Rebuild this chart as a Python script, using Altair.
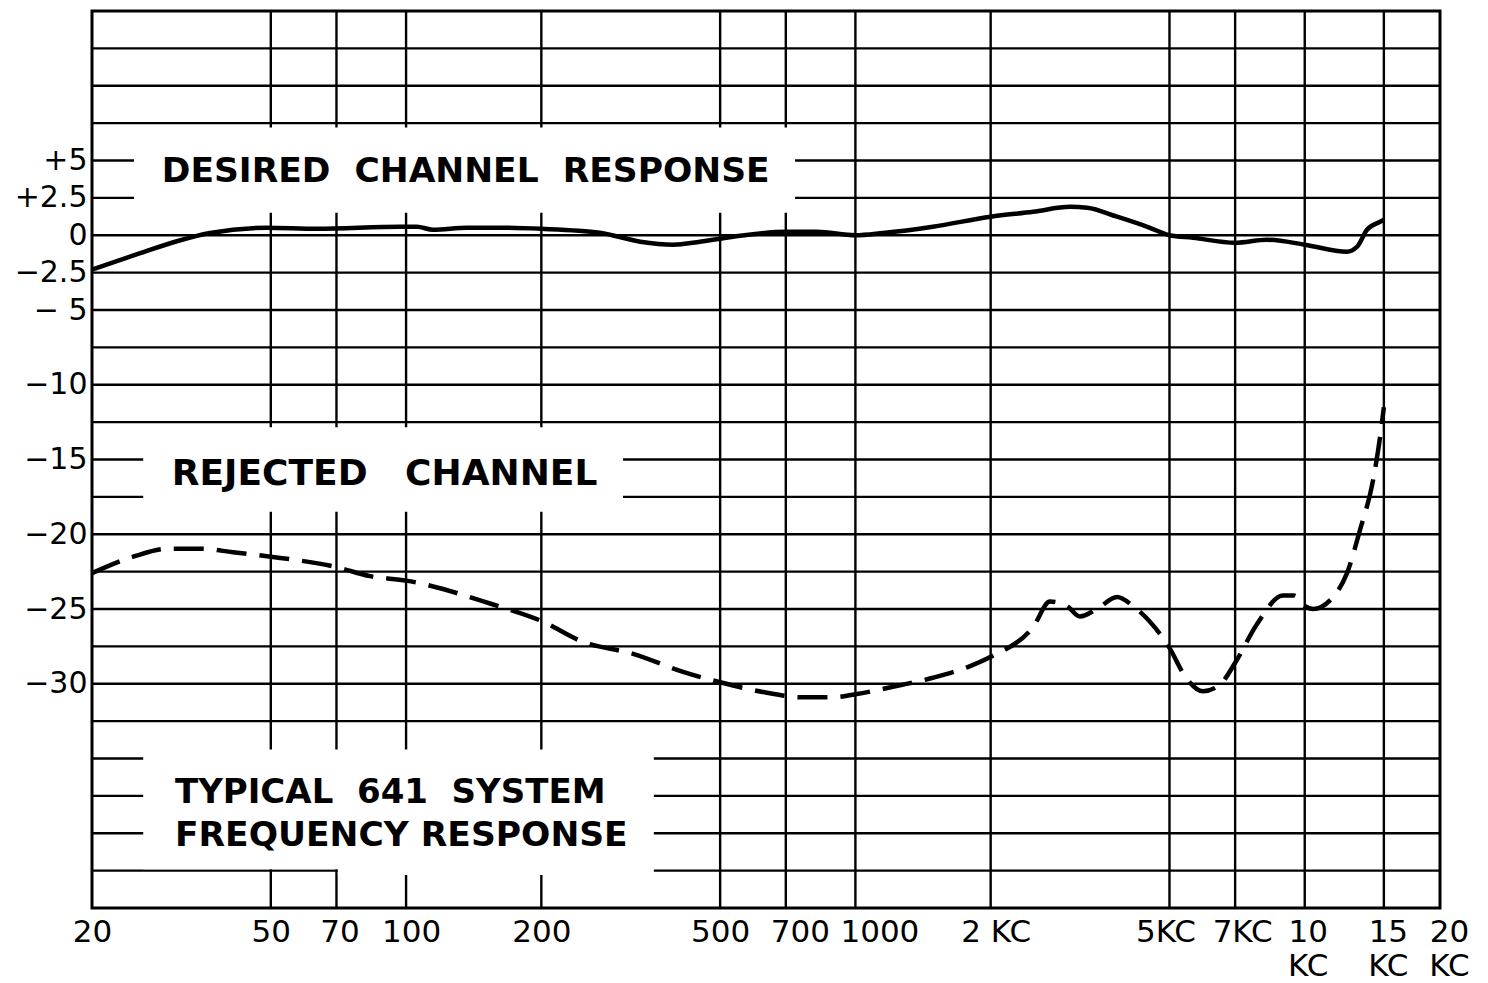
import altair as alt
import pandas as pd

# ---------------- data ----------------
desired_freq = [20, 25.6, 30.9, 36.6, 49, 63.3, 97, 105.8, 114.8, 136.6, 161.8, 200, 270, 332, 393,
                451, 534, 700, 821, 1000, 1152, 1488, 2000, 2486, 3004, 3278, 3822, 4524, 5000, 5640,
                7000, 8240, 10000, 12418, 13072, 13760, 14710, 15000]
desired_db = [-2.3, -1.2, -0.4, 0.15, 0.5, 0.43, 0.57, 0.57, 0.37, 0.5, 0.5, 0.43, 0.17, -0.43, -0.63,
              -0.43, -0.1, 0.23, 0.23, 0.0, 0.15, 0.57, 1.24, 1.57, 1.9, 1.84, 1.24, 0.5, 0.0, -0.17,
              -0.5, -0.3, -0.63, -1.1, -0.77, 0.37, 0.9, 1.04]

rejected_freq = [20, 24.7, 29.4, 34.8, 41.2, 50, 70, 83.1, 100, 156.2, 200, 247.6, 320, 413.4, 500,
                 635.7, 753, 891.9, 1000, 1257, 1488, 1773, 2000, 2486, 2711, 2957, 3160, 3449, 3822,
                 4148, 4976, 5473, 5938, 6477, 7000, 7833, 8946, 9458, 10000, 10434, 11562, 12418,
                 13277, 14190, 14710, 15000]
rejected_db = [-22.6, -21.5, -20.97, -20.97, -21.2, -21.5, -22.2, -22.8, -23.1, -24.7, -25.8, -27.2,
               -28.0, -29.2, -29.9, -30.6, -30.9, -30.9, -30.7, -30.1, -29.6, -28.9, -28.2, -26.2,
               -24.5, -24.8, -25.5, -25.0, -24.2, -24.8, -27.5, -29.7, -30.5, -30.05, -28.6, -26.0,
               -24.1, -24.1, -24.8, -25.0, -24.2, -22.6, -19.7, -16.4, -13.5, -11.5]

# tick labels
x_tick_values = [20, 50, 70, 100, 200, 500, 700, 1000, 2000, 5000, 7000, 10000, 15000, 20000]
x_tick_labels = ["20", "50", "70", "100", "200", "500", "700", "1000", "2 KC", "5KC", "7KC",
                 "10\nKC", "15\nKC", "20\nKC"]
y_tick_values = [5, 2.5, 0, -2.5, -5, -10, -15, -20, -25, -30]
y_tick_labels = ["+5", "+2.5", "0", "\u22122.5", "\u2212 5", "\u221210", "\u221215", "\u221220",
                 "\u221225", "\u221230"]

# grid
v_grid_freq = [50, 70, 100, 200, 500, 700, 1000, 2000, 5000, 7000, 10000, 15000]
h_grid_db = [12.5, 10, 7.5, 5, 2.5, 0, -2.5, -5, -7.5, -10, -12.5, -15, -17.5, -20, -22.5, -25,
             -27.5, -30, -32.5, -35, -37.5, -40, -42.5]

# annotation boxes (white panels that interrupt the grid)
box_f1 = [24.8, 26.0, 26.0, 70.5]
box_f2 = [734, 304, 356, 356]
box_db1 = [7.2, -12.85, -34.4, -42.3]
box_db2 = [1.5, -18.5, -42.4, -42.8]

# annotation texts
note_text = ["DESIRED\u00a0\u00a0CHANNEL\u00a0\u00a0RESPONSE", "REJECTED\u00a0\u00a0\u00a0CHANNEL",
             "TYPICAL\u00a0\u00a0641\u00a0\u00a0SYSTEM", "FREQUENCY\u00a0RESPONSE"]
note_freq = [28.6, 30.1, 30.6, 30.6]
note_db = [4.25, -16.0, -37.3, -40.2]

# styling (not data)
note_size = [34.5, 36, 34, 34.5]
x_label_offset = {70: 3, 100: 5, 700: 14, 1000: 24, 2000: 5, 5000: -4, 7000: 7, 10000: 3,
                  15000: 4, 20000: 9}

# ---------------- tables ----------------
desired = pd.DataFrame({"f": desired_freq, "db": desired_db})
rejected = pd.DataFrame({"f": rejected_freq, "db": rejected_db})
vgrid = pd.DataFrame({"f": v_grid_freq})
hgrid = pd.DataFrame({"db": h_grid_db})
boxes = pd.DataFrame({"f": box_f1, "f2": box_f2, "db": box_db1, "db2": box_db2})


def js_label(s):
    parts = s.split("\n")
    if len(parts) == 1:
        return "'" + s + "'"
    return "[" + ",".join("'" + p + "'" for p in parts) + "]"


x_expr = ""
for v, lab in zip(x_tick_values, x_tick_labels):
    x_expr += f"datum.value == {v} ? {js_label(lab)} : "
x_expr += "''"

y_expr = ""
for v, lab in zip(y_tick_values, y_tick_labels):
    y_expr += f"datum.value == {v} ? '{lab}' : "
y_expr += "''"

FONT = "DejaVu Sans"

x_axis = alt.Axis(values=x_tick_values, labelExpr=x_expr, title=None, grid=False, ticks=False,
                  domain=False, labelFont=FONT, labelFontSize=31, labelColor="black",
                  labelPadding=9, labelFlush=False, labelOverlap=False, labelBound=False,
                  labelBaseline="top", labelLineHeight=34,
                  labelOffset={"condition": [{"test": f"datum.value == {k}", "value": v}
                                             for k, v in x_label_offset.items()],
                               "value": 0})
y_axis = alt.Axis(values=y_tick_values, labelExpr=y_expr, title=None, grid=False, ticks=False,
                  domain=False, labelFont=FONT, labelFontSize=30, labelColor="black",
                  labelPadding=5)

xs = alt.Scale(type="log", domain=[20, 20000])
ys = alt.Scale(domain=[-45, 15])

X = alt.X("f:Q", scale=xs, axis=x_axis)
Y = alt.Y("db:Q", scale=ys, axis=y_axis)

vrules = alt.Chart(vgrid).mark_rule(color="black", strokeWidth=2.4).encode(x=X)
hrules = alt.Chart(hgrid).mark_rule(color="black", strokeWidth=2.4).encode(y=Y)

rects = alt.Chart(boxes).mark_rect(color="white").encode(
    x=X, x2="f2:Q", y=Y, y2="db2:Q")

text_layers = []
for t, f, d, s in zip(note_text, note_freq, note_db, note_size):
    df = pd.DataFrame({"f": [f], "db": [d], "t": [t]})
    text_layers.append(
        alt.Chart(df).mark_text(font=FONT, fontWeight="bold", fontSize=s, align="left",
                                baseline="middle", color="black").encode(x=X, y=Y, text="t:N"))

solid = alt.Chart(desired).mark_line(color="black", strokeWidth=4.5, interpolate="monotone").encode(
    x=X, y=Y)
dashed = alt.Chart(rejected).mark_line(color="black", strokeWidth=4.5, interpolate="monotone",
                                       strokeDash=[30, 13]).encode(x=X, y=Y)

chart = alt.layer(vrules, hrules, rects, *text_layers, solid, dashed).properties(
    width=1348, height=897,
    padding={"left": 84, "top": 3, "right": 40, "bottom": 75},
    autosize=alt.AutoSizeParams(type="none"),
    background="white",
).configure_view(stroke="black", strokeWidth=3)

chart.save("out.html", embed_options={"renderer": "svg", "actions": False})
